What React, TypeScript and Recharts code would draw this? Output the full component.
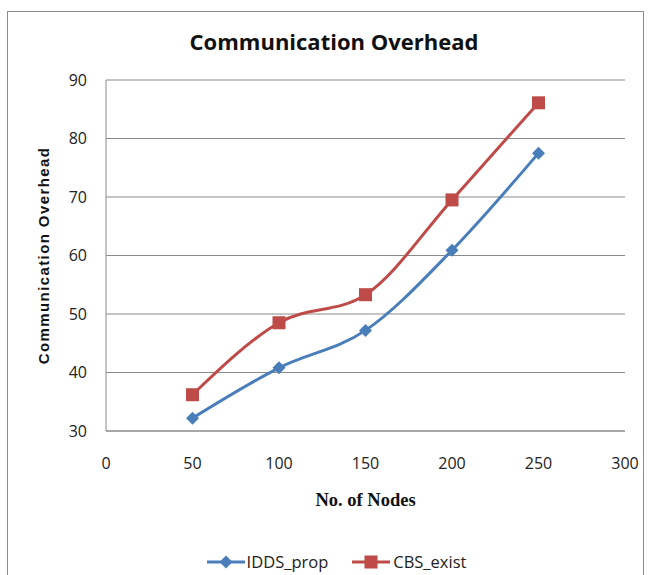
import React from 'react';
import { LineChart, Line, XAxis, YAxis, CartesianGrid, Legend } from 'recharts';

const nodes = [50, 100, 150, 200, 250];
const iddsProp = [32.2, 40.8, 47.2, 60.9, 77.5];
const cbsExist = [36.2, 48.5, 53.3, 69.5, 86.1];
const xTicks = [0, 50, 100, 150, 200, 250, 300];
const yTicks = [30, 40, 50, 60, 70, 80, 90];

const data = nodes.map((n, i) => ({ nodes: n, IDDS_prop: iddsProp[i], CBS_exist: cbsExist[i] }));

const BLUE = '#4A7EBB';
const RED = '#BE4B48';
const LABEL_FONT = '"Open Sans", "Noto Sans", sans-serif';

const Diamond = (props: any) => {
  const { cx, cy } = props;
  if (cx == null || cy == null) return null;
  const r = 6.5;
  return <path d={`M${cx},${cy - r}L${cx + r},${cy}L${cx},${cy + r}L${cx - r},${cy}Z`} fill={BLUE} stroke="none" />;
};

const Square = (props: any) => {
  const { cx, cy } = props;
  if (cx == null || cy == null) return null;
  const s = 13;
  return <rect x={cx - s / 2} y={cy - s / 2} width={s} height={s} fill={RED} stroke="none" />;
};

const LegendContent = () => (
  <div style={{ display: 'flex', justifyContent: 'center', alignItems: 'center', fontFamily: LABEL_FONT, fontSize: 16.5, color: '#222', paddingLeft: 2 }}>
    <svg width={38} height={16} style={{ marginRight: 2 }}>
      <line x1={0} y1={8} x2={38} y2={8} stroke={BLUE} strokeWidth={3} />
      <path d="M19,1.5L25.5,8L19,14.5L12.5,8Z" fill={BLUE} />
    </svg>
    <span style={{ marginRight: 24 }}>IDDS_prop</span>
    <svg width={38} height={16} style={{ marginRight: 3 }}>
      <line x1={0} y1={8} x2={38} y2={8} stroke={RED} strokeWidth={3} />
      <rect x={12.5} y={1.5} width={13} height={13} fill={RED} />
    </svg>
    <span>CBS_exist</span>
  </div>
);

export default function App() {
  return (
    <div style={{ position: 'absolute', left: 0, top: 0, width: 654, height: 575, background: '#fff', overflow: 'hidden' }}>
      <div style={{ position: 'absolute', left: 7, top: 11, width: 637, height: 580, border: '1px solid #8c8c8c', boxSizing: 'border-box' }} />
      <div style={{ position: 'absolute', left: 0, top: 26, width: 654, textAlign: 'center', fontFamily: '"Open Sans", sans-serif', fontWeight: 700, fontSize: 22, lineHeight: '30px', color: '#111', paddingLeft: 14, boxSizing: 'border-box' }}>
        Communication Overhead
      </div>
      <div style={{ position: 'absolute', left: 0, top: 0 }}>
        <LineChart width={654} height={575} data={data} margin={{ top: 80, right: 29, left: 46, bottom: 1 }}>
          <CartesianGrid vertical={false} stroke="#8a8a8a" strokeWidth={1} />
          <XAxis
            dataKey="nodes"
            type="number"
            domain={[0, 300]}
            ticks={xTicks}
            height={119}
            tickLine={false}
            tickSize={0}
            tickMargin={27}
            axisLine={{ stroke: '#8a8a8a' }}
            tick={{ fill: '#222', fontSize: 16, fontFamily: LABEL_FONT }}
            label={{ value: 'No. of Nodes', position: 'insideTop', offset: 62, style: { fontFamily: '"Liberation Serif", serif', fontWeight: 700, fontSize: 18.5, fill: '#111' } }}
          />
          <YAxis
            type="number"
            domain={[30, 90]}
            ticks={yTicks}
            width={60}
            tickLine={false}
            tickSize={0}
            tickMargin={19}
            axisLine={{ stroke: '#8a8a8a' }}
            tick={{ fill: '#222', fontSize: 16, fontFamily: LABEL_FONT }}
            label={{ value: 'Communication Overhead', angle: -90, position: 'insideLeft', offset: 3, dx: -5, style: { textAnchor: 'middle', fontFamily: '"Liberation Sans", Arial, sans-serif', fontWeight: 700, fontSize: 15, letterSpacing: 1.4, fill: '#111' } }}
          />
          <Legend verticalAlign="bottom" height={24} content={<LegendContent />} />
          <Line type="monotone" dataKey="IDDS_prop" stroke={BLUE} strokeWidth={3} dot={<Diamond />} activeDot={false} isAnimationActive={false} />
          <Line type="monotone" dataKey="CBS_exist" stroke={RED} strokeWidth={3} dot={<Square />} activeDot={false} isAnimationActive={false} />
        </LineChart>
      </div>
    </div>
  );
}
